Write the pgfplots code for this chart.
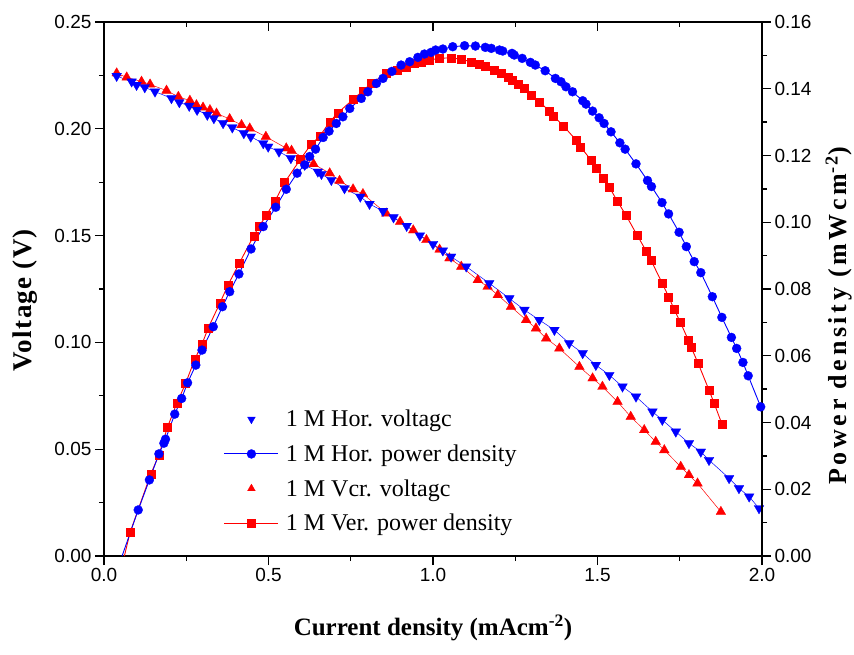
\documentclass[border=0pt]{standalone}
\usepackage{fontspec}
\setmainfont{Liberation Serif}
\setsansfont{Liberation Sans}
\newfontfamily\spacedbold[LetterSpace=14]{Liberation Serif}
\newfontfamily\spacedboldv[LetterSpace=5]{Liberation Serif}
\usepackage{pgfplots}
\pgfplotsset{compat=1.18}
\usepackage{pgfplotstable}

\pgfplotstableread{
x y
0.0385 0.2247
0.084 0.2221
0.099 0.2205
0.124 0.2194
0.155 0.2174
0.205 0.2143
0.229 0.2124
0.259 0.2107
0.283 0.2088
0.314 0.2065
0.334 0.2049
0.362 0.2026
0.390 0.2006
0.425 0.1979
0.446 0.1963
0.484 0.1932
0.499 0.1916
0.532 0.1893
0.568 0.1862
0.610 0.1831
0.650 0.1799
0.661 0.1788
0.691 0.1760
0.731 0.1721
0.779 0.1682
0.807 0.1648
0.848 0.1615
0.880 0.1585
0.920 0.1545
0.960 0.1500
1.000 0.1460
1.030 0.1430
1.055 0.1401
1.101 0.1355
1.171 0.1277
1.232 0.1206
1.278 0.1152
1.323 0.1105
1.369 0.1058
1.414 0.0996
1.455 0.0949
1.495 0.0894
1.536 0.0847
1.576 0.0793
1.617 0.0746
1.667 0.0676
1.697 0.0637
1.738 0.0582
1.778 0.0528
1.814 0.0488
1.839 0.0449
1.900 0.0364
1.930 0.0317
1.961 0.0278
1.991 0.0223
}\hvoltdata

\pgfplotstableread{
x y
0.0385 0.2260
0.069 0.2241
0.114 0.2221
0.140 0.2208
0.190 0.2179
0.226 0.2150
0.261 0.2132
0.281 0.2111
0.301 0.2100
0.322 0.2088
0.342 0.2072
0.382 0.2046
0.418 0.2018
0.443 0.2002
0.492 0.1963
0.554 0.1909
0.570 0.1898
0.637 0.1835
0.686 0.1792
0.716 0.1757
0.757 0.1717
0.787 0.1695
0.858 0.1604
0.900 0.1565
0.940 0.1525
0.980 0.1480
1.020 0.1435
1.050 0.1394
1.086 0.1355
1.136 0.1292
1.166 0.1261
1.197 0.1222
1.237 0.1167
1.283 0.1105
1.313 0.1066
1.344 0.1019
1.384 0.0972
1.445 0.0886
1.485 0.0832
1.515 0.0793
1.561 0.0722
1.601 0.0652
1.642 0.0590
1.677 0.0535
1.703 0.0496
1.753 0.0418
1.778 0.0379
1.804 0.0340
1.875 0.0207
}\vvoltdata

\pgfplotstableread{
x y
0.104 0.0138
0.138 0.0228
0.167 0.0306
0.182 0.0338
0.187 0.0350
0.215 0.0425
0.236 0.0472
0.254 0.0519
0.279 0.0572
0.298 0.0617
0.332 0.0687
0.360 0.0747
0.382 0.0792
0.410 0.0845
0.447 0.0920
0.484 0.0987
0.522 0.1045
0.554 0.1099
0.587 0.1147
0.610 0.1172
0.625 0.1197
0.643 0.1219
0.666 0.1254
0.684 0.1273
0.706 0.1296
0.726 0.1316
0.747 0.1341
0.782 0.1371
0.802 0.1391
0.828 0.1416
0.848 0.1431
0.875 0.1452
0.903 0.1471
0.929 0.1481
0.954 0.1494
0.974 0.1504
0.994 0.1509
1.008 0.1516
1.030 0.1519
1.060 0.1526
1.096 0.1529
1.129 0.1528
1.159 0.1524
1.177 0.1521
1.202 0.1516
1.212 0.1513
1.240 0.1506
1.247 0.1501
1.271 0.1491
1.296 0.1479
1.311 0.1471
1.341 0.1454
1.372 0.1431
1.389 0.1421
1.404 0.1406
1.424 0.1391
1.455 0.1364
1.465 0.1354
1.485 0.1333
1.505 0.1313
1.520 0.1296
1.541 0.1271
1.568 0.1238
1.584 0.1219
1.617 0.1175
1.652 0.1125
1.664 0.1107
1.696 0.1059
1.716 0.1025
1.748 0.0970
1.770 0.0927
1.794 0.0882
1.814 0.0849
1.849 0.0777
1.878 0.0715
1.907 0.0655
1.923 0.0622
1.942 0.0580
1.958 0.0540
1.996 0.0447
}\hpowdata

\pgfplotstableread{
x y
0.079 0.0070
0.142 0.0245
0.167 0.0303
0.193 0.0386
0.221 0.0457
0.248 0.0517
0.276 0.0590
0.298 0.0635
0.317 0.0684
0.352 0.0757
0.377 0.0812
0.411 0.0877
0.455 0.0959
0.471 0.0987
0.494 0.1022
0.519 0.1062
0.549 0.1119
0.597 0.1189
0.630 0.1234
0.656 0.1258
0.686 0.1301
0.711 0.1328
0.757 0.1368
0.787 0.1394
0.812 0.1416
0.858 0.1446
0.890 0.1457
0.919 0.1466
0.944 0.1476
0.964 0.1481
0.987 0.1486
1.020 0.1491
1.055 0.1493
1.086 0.1488
1.116 0.1481
1.141 0.1474
1.159 0.1469
1.187 0.1456
1.207 0.1446
1.227 0.1434
1.242 0.1426
1.260 0.1413
1.278 0.1401
1.298 0.1381
1.323 0.1361
1.354 0.1333
1.366 0.1318
1.397 0.1288
1.435 0.1246
1.448 0.1226
1.480 0.1187
1.497 0.1162
1.517 0.1132
1.536 0.1105
1.561 0.1062
1.586 0.1022
1.620 0.0962
1.649 0.0912
1.662 0.0887
1.697 0.0817
1.716 0.0777
1.733 0.0739
1.751 0.0702
1.776 0.0647
1.784 0.0627
1.806 0.0577
1.839 0.0497
1.854 0.0459
1.878 0.0396
}\vpowdata

\pgfplotsset{
  hvolt/.style={color=blue, line width=0.5pt, mark=triangle*, mark size=5.6pt, mark options={solid, rotate=180, fill=blue, draw=blue, line width=0.3pt}},
  vvolt/.style={color=red, line width=0.5pt, mark=triangle*, mark size=5.6pt, mark options={solid, fill=red, draw=red, line width=0.3pt}},
  hpow/.style={color=blue, line width=0.9pt, mark=*, mark size=4.5pt, mark options={solid, fill=blue, draw=blue, line width=0.3pt}},
  vpow/.style={color=red, line width=0.9pt, mark=square*, mark size=4pt, mark options={solid, fill=red, draw=red, line width=0.3pt}},
  common/.style={
    at={(0pt,0pt)}, anchor=south west,
    scale only axis, width=658pt, height=534pt,
    xmin=0, xmax=2,
    minor tick num=1,
    major tick length=9pt, minor tick length=5pt,
    axis line style={line width=1.6pt},
    every tick/.append style={black, line width=1.3pt},
    /pgf/number format/assume math mode=true,
    ticklabel style={font=\sffamily\fontsize{19}{22}\selectfont},
    label style={font=\bfseries\fontsize{27}{30}\selectfont},
  },
}

\begin{document}
\begin{tikzpicture}
\useasboundingbox (-104pt,-98pt) rectangle (750pt,556pt);
% left axis: voltage
\begin{axis}[common,
  ymin=0, ymax=0.25,
  xtick={0,0.5,1,1.5,2},
  ytick={0,0.05,0.1,0.15,0.2,0.25},
  xtick pos=lower, ytick pos=left, tick align=outside,
  xticklabel style={/pgf/number format/.cd, fixed, fixed zerofill, precision=1},
  yticklabel style={/pgf/number format/.cd, fixed, fixed zerofill, precision=2},
  xlabel={Current density (mAcm\textsuperscript{-2})},
  ylabel={Voltage (V)},
  xlabel style={font=\bfseries\fontsize{25}{28}\selectfont, at={(axis description cs:0.5,-0.148)}, anchor=base},
  ylabel style={font=\spacedboldv\bfseries\fontsize{27}{30}\selectfont, at={(axis description cs:-0.12,0.479)}, anchor=center},
]
\addplot[vvolt] table {\vvoltdata};
\addplot[hvolt] table {\hvoltdata};
\end{axis}
% top ticks pointing inward
\begin{axis}[common,
  ymin=0, ymax=1,
  hide y axis,
  axis x line*=top,
  xtick={0,0.5,1,1.5,2},
  tick align=inside,
  xticklabels={},
]
\end{axis}
% right axis: power density
\begin{axis}[common,
  ymin=0, ymax=0.16,
  axis x line=none,
  axis y line*=right,
  tick align=outside,
  ytick={0,0.02,0.04,0.06,0.08,0.1,0.12,0.14,0.16},
  yticklabel style={/pgf/number format/.cd, fixed, fixed zerofill, precision=2},
  ylabel={Power density (mWcm\textsuperscript{-2})},
  ylabel style={font=\spacedbold\bfseries\fontsize{26}{30}\selectfont, at={(axis description cs:1.117,0.450)}, anchor=center},
  legend cell align=left,
  legend image code/.code={\draw[mark repeat=2,mark phase=2,#1] plot coordinates {(0pt,0pt) (27pt,0pt) (54pt,0pt)};},
  legend style={draw=none, fill=none, at={(0.182,0.279)}, anchor=north west,
    inner sep=0pt, row sep=10.5pt, column sep=4pt, font=\fontsize{24}{28}\selectfont,
    nodes={inner sep=3pt}},
]
\addplot[vpow, forget plot] table {\vpowdata};
\addplot[vpow, no marks, forget plot] coordinates {(0.062,0) (0.079,0.0070)};
\addplot[hpow, no marks, forget plot] coordinates {(0.055,0) (0.104,0.0138)};
\addlegendimage{hvolt, only marks, mark size=4.5pt}
\addlegendentry{1 M Hor. voltagc}
\addplot[hpow] table {\hpowdata};
\addlegendentry{1 M Hor. power density}
\addlegendimage{vvolt, only marks, mark size=4.5pt}
\addlegendentry{1 M Vcr. voltagc}
\addlegendimage{vpow}
\addlegendentry{1 M Ver. power density}
\end{axis}
\end{tikzpicture}
\end{document}
